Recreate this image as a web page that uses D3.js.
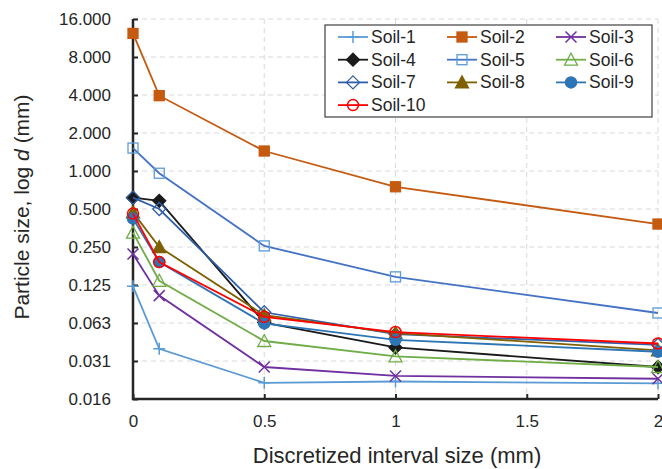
<!DOCTYPE html>
<html>
<head>
<meta charset="utf-8">
<script src="https://cdn.jsdelivr.net/npm/d3@7"></script>
<style>
  body { margin: 0; background: #fff; }
  text { font-family: "Liberation Sans", Arial, sans-serif; fill: #262626; }
</style>
</head>
<body>
<svg id="chart" width="662" height="469"></svg>
<script>
// interval sizes (mm)
var intervals = [0, 0.1, 0.5, 1, 2];

var soil1 = [0.122, 0.039, 0.021, 0.0215, 0.0208];
var soil2 = [12.3, 3.95, 1.44, 0.75, 0.38];
var soil3 = [0.22, 0.103, 0.028, 0.0238, 0.0226];
var soil4 = [0.615, 0.58, 0.063, 0.040, 0.028];
var soil5 = [1.52, 0.96, 0.255, 0.145, 0.075];
var soil6 = [0.325, 0.135, 0.045, 0.034, 0.028];
var soil7 = [0.615, 0.50, 0.076, 0.051, 0.042];
var soil8 = [0.47, 0.25, 0.072, 0.052, 0.038];
var soil9 = [0.42, 0.19, 0.062, 0.046, 0.037];
var soil10 = [0.46, 0.19, 0.070, 0.053, 0.043];

var yTickValues = [16, 8, 4, 2, 1, 0.5, 0.25, 0.125, 0.0625, 0.03125, 0.015625];
var yTickLabels = ["16.000", "8.000", "4.000", "2.000", "1.000", "0.500", "0.250", "0.125", "0.063", "0.031", "0.016"];
var xTickValues = [0, 0.5, 1, 1.5, 2];
var xTickLabels = ["0", "0.5", "1", "1.5", "2"];

var series = [
  { name: "Soil-1", values: soil1, line: "#5b9bd5", mark: "plus", color: "#5b9bd5" },
  { name: "Soil-2", values: soil2, line: "#c55a11", mark: "square", color: "#c55a11", fill: true },
  { name: "Soil-3", values: soil3, line: "#7030a0", mark: "cross", color: "#7030a0" },
  { name: "Soil-4", values: soil4, line: "#1a1a1a", mark: "diamond", color: "#1a1a1a", fill: true },
  { name: "Soil-5", values: soil5, line: "#4472c4", mark: "square", color: "#5b9bd5" },
  { name: "Soil-6", values: soil6, line: "#70ad47", mark: "triangle", color: "#70ad47" },
  { name: "Soil-7", values: soil7, line: "#2f5fa8", mark: "diamond", color: "#2f5fa8" },
  { name: "Soil-8", values: soil8, line: "#7f6000", mark: "triangle", color: "#7f6000", fill: true },
  { name: "Soil-9", values: soil9, line: "#2e75b6", mark: "circle", color: "#2e75b6", fill: true },
  { name: "Soil-10", values: soil10, line: "#ff0000", mark: "circle", color: "#ff0000" }
];

var svg = d3.select("#chart");
var plotLeft = 133, plotRight = 658, plotTop = 19, plotBottom = 399;

var x = d3.scaleLinear().domain([0, 2]).range([plotLeft, plotRight]);
var y = d3.scaleLog().base(2).domain([0.015625, 16]).range([plotBottom, plotTop]);

// grid
svg.append("g")
  .selectAll("line")
  .data(yTickValues.slice(0, -1))
  .enter()
  .append("line")
  .attr("x1", plotLeft).attr("x2", plotRight)
  .attr("y1", function (d) { return y(d); })
  .attr("y2", function (d) { return y(d); })
  .style("stroke", "#d9d9d9")
  .style("stroke-dasharray", "5,4");

svg.append("g")
  .selectAll("line")
  .data(xTickValues.slice(1))
  .enter()
  .append("line")
  .attr("x1", function (d) { return x(d); })
  .attr("x2", function (d) { return x(d); })
  .attr("y1", plotTop).attr("y2", plotBottom)
  .style("stroke", "#d9d9d9")
  .style("stroke-dasharray", "5,4");

// axes
var yAxis = d3.axisLeft(y)
  .tickValues(yTickValues)
  .tickSize(-5)
  .tickPadding(22)
  .tickFormat(function (d, i) { return yTickLabels[i]; });

var gy = svg.append("g").attr("transform", "translate(" + plotLeft + ",0)").call(yAxis);
gy.select(".domain").remove();
gy.selectAll(".tick line").style("stroke", "#262626").style("stroke-width", 2);
gy.selectAll("text").style("font-size", "17px").style("font-family", "Liberation Sans, Arial, sans-serif").attr("fill", "#262626");

var xAxis = d3.axisBottom(x)
  .tickValues(xTickValues)
  .tickSize(-5)
  .tickPadding(16)
  .tickFormat(function (d, i) { return xTickLabels[i]; });

var gx = svg.append("g").attr("transform", "translate(0," + plotBottom + ")").call(xAxis);
gx.select(".domain").remove();
gx.selectAll(".tick line").style("stroke", "#262626").style("stroke-width", 2);
gx.selectAll("text").style("font-size", "17px").style("font-family", "Liberation Sans, Arial, sans-serif").attr("fill", "#262626");

svg.append("path")
  .attr("d", "M" + plotLeft + "," + plotTop + "V" + plotBottom + "H" + plotRight)
  .style("fill", "none")
  .style("stroke", "#262626")
  .style("stroke-width", 2.5);

// axis titles
svg.append("text")
  .attr("x", 397)
  .attr("y", 463)
  .attr("text-anchor", "middle")
  .style("font-size", "22px")
  .text("Discretized interval size (mm)");

var yt = svg.append("text")
  .attr("transform", "translate(29," + 207 + ") rotate(-90)")
  .attr("text-anchor", "middle")
  .style("font-size", "21px");
yt.append("tspan").text("Particle size, log ");
yt.append("tspan").style("font-style", "italic").text("d");
yt.append("tspan").text(" (mm)");

// markers
function drawMark(g, s, cx, cy) {
  var fill = s.fill ? s.color : "none";
  if (s.mark === "plus") {
    g.append("path").attr("d", "M" + (cx - 6) + "," + cy + "H" + (cx + 6) + "M" + cx + "," + (cy - 6) + "V" + (cy + 6))
      .style("stroke", s.color).style("stroke-width", 1.5);
  } else if (s.mark === "cross") {
    g.append("path").attr("d", "M" + (cx - 5.5) + "," + (cy - 5.5) + "L" + (cx + 5.5) + "," + (cy + 5.5) + "M" + (cx - 5.5) + "," + (cy + 5.5) + "L" + (cx + 5.5) + "," + (cy - 5.5))
      .style("stroke", s.color).style("stroke-width", 1.5);
  } else if (s.mark === "square") {
    g.append("rect").attr("x", cx - 5).attr("y", cy - 5).attr("width", 10).attr("height", 10)
      .style("fill", fill).style("stroke", s.color).style("stroke-width", 1.3);
  } else if (s.mark === "diamond") {
    g.append("path").attr("d", "M" + cx + "," + (cy - 6.5) + "L" + (cx + 6.5) + "," + cy + "L" + cx + "," + (cy + 6.5) + "L" + (cx - 6.5) + "," + cy + "Z")
      .style("fill", fill).style("stroke", s.color).style("stroke-width", 1.3);
  } else if (s.mark === "triangle") {
    g.append("path").attr("d", "M" + cx + "," + (cy - 6.5) + "L" + (cx + 6.5) + "," + (cy + 5.5) + "L" + (cx - 6.5) + "," + (cy + 5.5) + "Z")
      .style("fill", fill).style("stroke", s.color).style("stroke-width", 1.3);
  } else if (s.mark === "circle") {
    g.append("circle").attr("cx", cx).attr("cy", cy).attr("r", 5.5)
      .style("fill", fill).style("stroke", s.color).style("stroke-width", 1.5);
  }
}

var line = d3.line()
  .x(function (d) { return x(d[0]); })
  .y(function (d) { return y(d[1]); });

series.forEach(function (s) {
  var pts = intervals.map(function (v, i) { return [v, s.values[i]]; });
  var g = svg.append("g");
  g.append("path")
    .attr("d", line(pts))
    .style("fill", "none")
    .style("stroke", s.line)
    .style("stroke-width", 1.8);
  pts.forEach(function (p) {
    drawMark(g, s, x(p[0]), y(p[1]));
  });
});

// legend
var lg = svg.append("g");
lg.append("rect")
  .attr("x", 325).attr("y", 25).attr("width", 327).attr("height", 92)
  .style("fill", "#fff").style("stroke", "#404040").style("stroke-width", 1.2);

series.forEach(function (s, i) {
  var col = i % 3, row = Math.floor(i / 3);
  var lx = 338 + col * 109, ly = 37 + row * 22.7;
  lg.append("line").attr("x1", lx).attr("x2", lx + 30).attr("y1", ly).attr("y2", ly)
    .style("stroke", s.line).style("stroke-width", 1.8);
  drawMark(lg, s, lx + 15, ly);
  lg.append("text").attr("x", lx + 33).attr("y", ly + 6)
    .style("font-size", "17.5px").text(s.name);
});
</script>
</body>
</html>
